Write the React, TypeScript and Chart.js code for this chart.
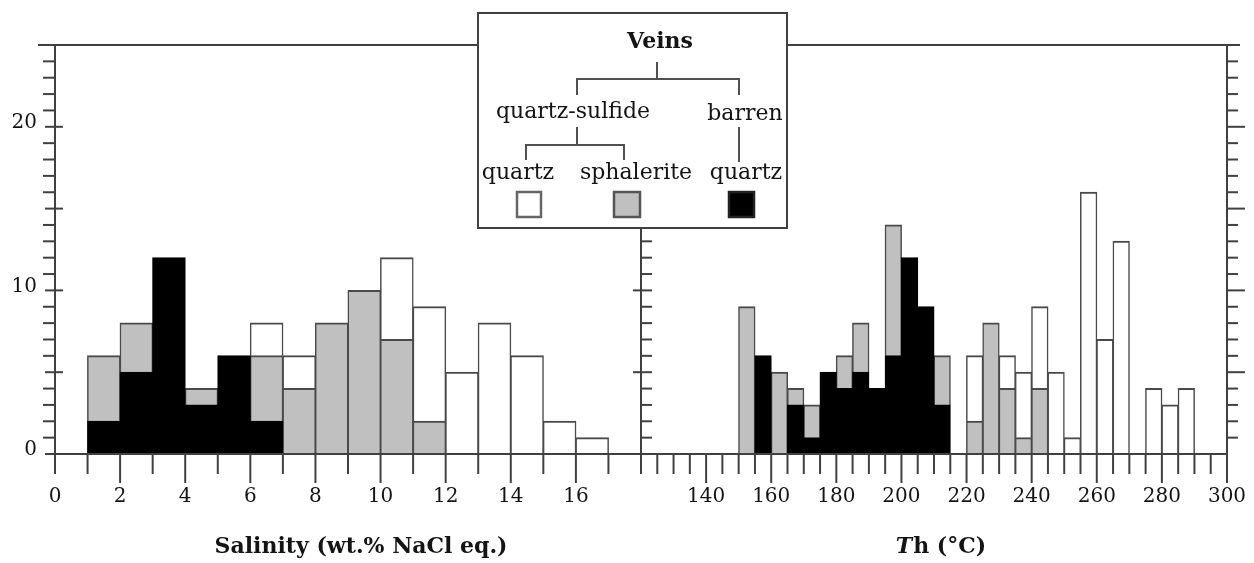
import React, { useEffect, useRef } from 'react';
import { Chart, registerables } from 'chart.js';

Chart.register(...registerables);

// ---------------- data ----------------
// Salinity histogram (wt.% NaCl eq.), bins of width 1 starting at these values
const SAL_BIN_STARTS = [1, 2, 3, 4, 5, 6, 7, 8, 9, 10, 11, 12, 13, 14, 15, 16];
const SAL_BIN_WIDTH = 1;
const SAL_BARREN_QUARTZ = [2, 5, 12, 3, 6, 2, 0, 0, 0, 0, 0, 0, 0, 0, 0, 0];
const SAL_SPHALERITE = [4, 3, 0, 1, 0, 4, 4, 8, 10, 7, 2, 0, 0, 0, 0, 0];
const SAL_QUARTZ = [0, 0, 0, 0, 0, 2, 2, 0, 0, 5, 7, 5, 8, 6, 2, 1];

// Homogenization temperature histogram (°C), bins of width 5
const TH_BIN_STARTS = [150, 155, 160, 165, 170, 175, 180, 185, 190, 195, 200, 205, 210, 215, 220, 225, 230, 235, 240, 245, 250, 255, 260, 265, 270, 275, 280, 285];
const TH_BIN_WIDTH = 5;
const TH_BARREN_QUARTZ = [0, 6, 0, 3, 1, 5, 4, 5, 4, 6, 12, 9, 3, 0, 0, 0, 0, 0, 0, 0, 0, 0, 0, 0, 0, 0, 0, 0];
const TH_SPHALERITE = [9, 0, 5, 1, 2, 0, 2, 3, 0, 8, 0, 0, 3, 0, 2, 8, 4, 1, 4, 0, 0, 0, 0, 0, 0, 0, 0, 0];
const TH_QUARTZ = [0, 0, 0, 0, 0, 0, 0, 0, 0, 0, 0, 0, 0, 0, 4, 0, 2, 4, 5, 5, 1, 16, 7, 13, 0, 4, 3, 4];

// axes
const COUNT_MIN = 0;
const COUNT_MAX = 25;
const COUNT_LABEL_STEP = 10;
const COUNT_MINOR_STEP = 1;
const COUNT_MAJOR_STEP = 5;

const SAL_MIN = 0;
const SAL_MAX = 18;
const SAL_LABEL_STEP = 2;
const SAL_MINOR_STEP = 1;

const TH_MIN = 120;
const TH_MAX = 300;
const TH_LABEL_STEP = 20;
const TH_MINOR_STEP = 5;

const SAL_TITLE = 'Salinity (wt.% NaCl eq.)';
const TH_TITLE_ITALIC = 'T';
const TH_TITLE_REST = 'h (°C)';

const SERIES_LABELS = ['barren: quartz', 'quartz-sulfide: sphalerite', 'quartz-sulfide: quartz'];

// ---------------- styles ----------------
const W = 1254;
const H = 563;
const PLOT_LEFT = 55;
const PLOT_SPLIT = 641;
const PLOT_RIGHT = 1227;
const PLOT_TOP = 45;
const PLOT_BOTTOM = 454;

const LINE = '#404040';
const TEXT = '#141414';
const GRAY = '#c0c0c0';
const FONT_FAMILY = '"DejaVu Serif", serif';
const TICK_FONT = { family: FONT_FAMILY, size: 20 };
const TITLE_FONT = `bold 22px ${FONT_FAMILY}`;
const TITLE_FONT_ITALIC = `italic bold 22px ${FONT_FAMILY}`;
const LEGEND_FONT = `22px ${FONT_FAMILY}`;
const LEGEND_HEAD_FONT = `bold 22px ${FONT_FAMILY}`;

const BAR_BORDER = { top: 2, left: 1.5, right: 1.5, bottom: 0 };

function toPoints(starts: number[], width: number, values: number[]) {
  return starts.map((s, i) => ({ x: s + width / 2, y: values[i] === 0 ? null : values[i] }));
}

function makeDatasets(starts: number[], width: number, barren: number[], sph: number[], qtz: number[]) {
  const common = {
    barPercentage: 1,
    categoryPercentage: 1,
    borderWidth: BAR_BORDER,
    borderSkipped: false as const,
    inflateAmount: 0.5,
  };
  return [
    { label: SERIES_LABELS[0], data: toPoints(starts, width, barren), backgroundColor: '#000000', borderColor: '#000000', ...common },
    { label: SERIES_LABELS[1], data: toPoints(starts, width, sph), backgroundColor: GRAY, borderColor: '#4a4a4a', ...common },
    { label: SERIES_LABELS[2], data: toPoints(starts, width, qtz), backgroundColor: '#ffffff', borderColor: '#4a4a4a', ...common },
  ];
}

function seg(ctx: CanvasRenderingContext2D, x1: number, y1: number, x2: number, y2: number) {
  ctx.beginPath();
  ctx.moveTo(x1, y1);
  ctx.lineTo(x2, y2);
  ctx.stroke();
}

const MINOR_TICK_DOWN = 20;
const MAJOR_TICK_DOWN = 29;

const leftPanelPlugin = {
  id: 'leftPanelDecor',
  afterDraw(chart: any) {
    const { ctx, chartArea: a, scales } = chart;
    const x = scales.x;
    const y = scales.y;
    ctx.save();
    ctx.strokeStyle = LINE;
    ctx.lineWidth = 2;
    seg(ctx, a.left - 17, a.top, a.right, a.top);
    seg(ctx, a.left - 10, a.bottom, a.right, a.bottom);
    seg(ctx, a.left, a.top, a.left, a.bottom);
    for (let v = COUNT_MIN + COUNT_MINOR_STEP; v < COUNT_MAX; v += COUNT_MINOR_STEP) {
      const py = y.getPixelForValue(v);
      if (v % COUNT_MAJOR_STEP === 0) seg(ctx, a.left - 10, py, a.left + 8, py);
      else seg(ctx, a.left - 12, py, a.left, py);
    }
    for (let v = SAL_MIN; v < SAL_MAX; v += SAL_MINOR_STEP) {
      const px = x.getPixelForValue(v);
      const major = v > SAL_MIN && v % SAL_LABEL_STEP === 0;
      seg(ctx, px, a.bottom, px, a.bottom + (major ? MAJOR_TICK_DOWN : MINOR_TICK_DOWN));
    }
    ctx.fillStyle = TEXT;
    ctx.font = TITLE_FONT;
    ctx.textAlign = 'center';
    ctx.textBaseline = 'alphabetic';
    ctx.fillText(SAL_TITLE, x.getPixelForValue(9.4), 553);
    ctx.restore();
  },
};

const rightPanelPlugin = {
  id: 'rightPanelDecor',
  afterDraw(chart: any) {
    const { ctx, chartArea: a, scales } = chart;
    const x = scales.x;
    const y = scales.y;
    ctx.save();
    ctx.strokeStyle = LINE;
    ctx.lineWidth = 2;
    seg(ctx, a.left, a.top, a.right + 13, a.top);
    seg(ctx, a.left, a.bottom, a.right, a.bottom);
    seg(ctx, a.left, a.top, a.left, a.bottom);
    seg(ctx, a.right, a.top, a.right, a.bottom);
    for (let v = COUNT_MIN + COUNT_MINOR_STEP; v < COUNT_MAX; v += COUNT_MINOR_STEP) {
      const py = y.getPixelForValue(v);
      if (v % COUNT_MAJOR_STEP === 0) {
        seg(ctx, a.left - 8, py, a.left + 11, py);
        seg(ctx, a.right, py, a.right + 18, py);
      } else {
        seg(ctx, a.left, py, a.left + 11, py);
        seg(ctx, a.right, py, a.right + 11, py);
      }
    }
    for (let v = TH_MIN; v <= TH_MAX; v += TH_MINOR_STEP) {
      const px = x.getPixelForValue(v);
      const major = v > TH_MIN && v % TH_LABEL_STEP === 0;
      seg(ctx, px, a.bottom, px, a.bottom + (major ? MAJOR_TICK_DOWN : MINOR_TICK_DOWN));
    }

    // axis title with italic T
    ctx.fillStyle = TEXT;
    ctx.textBaseline = 'alphabetic';
    ctx.textAlign = 'left';
    ctx.font = TITLE_FONT_ITALIC;
    const wT = ctx.measureText(TH_TITLE_ITALIC).width;
    ctx.font = TITLE_FONT;
    const wR = ctx.measureText(TH_TITLE_REST).width;
    const sx = x.getPixelForValue(212) - (wT + wR) / 2;
    ctx.font = TITLE_FONT_ITALIC;
    ctx.fillText(TH_TITLE_ITALIC, sx, 553);
    ctx.font = TITLE_FONT;
    ctx.fillText(TH_TITLE_REST, sx + wT + 1, 553);

    // legend box (tree of vein types)
    ctx.fillStyle = '#ffffff';
    ctx.fillRect(478, 13, 309, 215);
    ctx.strokeStyle = LINE;
    ctx.lineWidth = 2;
    ctx.strokeRect(478, 13, 309, 215);

    ctx.fillStyle = TEXT;
    ctx.textAlign = 'center';
    ctx.font = LEGEND_HEAD_FONT;
    ctx.fillText('Veins', 660, 48);
    ctx.font = LEGEND_FONT;
    ctx.fillText('quartz-sulfide', 573, 118);
    ctx.fillText('barren', 745, 120);
    ctx.fillText('quartz', 518, 179);
    ctx.fillText('sphalerite', 636, 179);
    ctx.fillText('quartz', 746, 179);

    ctx.strokeStyle = '#505050';
    seg(ctx, 657, 62, 657, 79);
    seg(ctx, 576, 79, 740, 79);
    seg(ctx, 577, 78, 577, 95);
    seg(ctx, 739, 78, 739, 95);
    seg(ctx, 577, 127, 577, 145);
    seg(ctx, 525, 145, 625, 145);
    seg(ctx, 526, 144, 526, 160);
    seg(ctx, 624, 144, 624, 160);
    seg(ctx, 739, 127, 739, 162);

    ctx.lineWidth = 2.5;
    ctx.fillStyle = '#ffffff';
    ctx.fillRect(517, 192, 24, 25);
    ctx.strokeStyle = '#666666';
    ctx.strokeRect(517, 192, 24, 25);
    ctx.fillStyle = GRAY;
    ctx.fillRect(614, 192, 26, 25);
    ctx.strokeStyle = '#555555';
    ctx.strokeRect(614, 192, 26, 25);
    ctx.fillStyle = '#000000';
    ctx.fillRect(729, 192, 25, 25);
    ctx.strokeStyle = '#222222';
    ctx.strokeRect(729, 192, 25, 25);
    ctx.restore();
  },
};

function xAxis(min: number, max: number, step: number, hideValue: number) {
  return {
    type: 'linear' as const,
    min,
    max,
    stacked: true,
    offset: false,
    grid: { display: false, drawTicks: false },
    border: { display: false },
    ticks: {
      stepSize: step,
      autoSkip: false,
      maxRotation: 0,
      padding: 31,
      font: TICK_FONT,
      color: TEXT,
      callback: (v: any) => (v === hideValue ? '' : String(v)),
    },
    afterFit: (s: any) => {
      s.height = H - PLOT_BOTTOM;
      s.paddingLeft = 0;
      s.paddingRight = 0;
    },
  };
}

export default function App() {
  const leftRef = useRef<HTMLCanvasElement | null>(null);
  const rightRef = useRef<HTMLCanvasElement | null>(null);

  useEffect(() => {
    const left = new Chart(leftRef.current as HTMLCanvasElement, {
      type: 'bar',
      data: { datasets: makeDatasets(SAL_BIN_STARTS, SAL_BIN_WIDTH, SAL_BARREN_QUARTZ, SAL_SPHALERITE, SAL_QUARTZ) as any },
      options: {
        responsive: false,
        animation: false,
        layout: { padding: { left: 0, top: PLOT_TOP, right: W - PLOT_SPLIT, bottom: 0 } },
        plugins: { legend: { display: false }, tooltip: { enabled: false }, title: { display: false } },
        scales: {
          x: xAxis(SAL_MIN, SAL_MAX, SAL_LABEL_STEP, SAL_MAX) as any,
          y: {
            min: COUNT_MIN,
            max: COUNT_MAX,
            stacked: true,
            grid: { display: false, drawTicks: false },
            border: { display: false },
            ticks: { stepSize: COUNT_LABEL_STEP, includeBounds: false, padding: 18, labelOffset: -4, font: TICK_FONT, color: TEXT },
            afterFit: (s: any) => {
              s.width = PLOT_LEFT;
              s.paddingTop = 0;
              s.paddingBottom = 0;
            },
          } as any,
        },
      },
      plugins: [leftPanelPlugin],
    });

    const right = new Chart(rightRef.current as HTMLCanvasElement, {
      type: 'bar',
      data: { datasets: makeDatasets(TH_BIN_STARTS, TH_BIN_WIDTH, TH_BARREN_QUARTZ, TH_SPHALERITE, TH_QUARTZ) as any },
      options: {
        responsive: false,
        animation: false,
        layout: { padding: { left: PLOT_SPLIT, top: PLOT_TOP, right: W - PLOT_RIGHT, bottom: 0 } },
        plugins: { legend: { display: false }, tooltip: { enabled: false }, title: { display: false } },
        scales: {
          x: xAxis(TH_MIN, TH_MAX, TH_LABEL_STEP, TH_MIN) as any,
          y: {
            display: false,
            min: COUNT_MIN,
            max: COUNT_MAX,
            stacked: true,
            afterFit: (s: any) => {
              s.width = 0;
              s.paddingTop = 0;
              s.paddingBottom = 0;
            },
          } as any,
        },
      },
      plugins: [rightPanelPlugin],
    });

    return () => {
      left.destroy();
      right.destroy();
    };
  }, []);

  return (
    <div style={{ position: 'fixed', left: 0, top: 0, width: W, height: H, background: '#ffffff' }}>
      <canvas ref={leftRef} width={W} height={H} style={{ position: 'absolute', left: 0, top: 0 }} />
      <canvas ref={rightRef} width={W} height={H} style={{ position: 'absolute', left: 0, top: 0 }} />
    </div>
  );
}
